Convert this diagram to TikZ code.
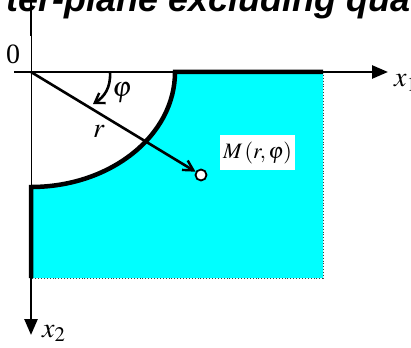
\documentclass[tikz,border=0pt]{standalone}
\usepackage{mathptmx}
\usepackage{fontspec}
\setmainfont{Liberation Serif}
\newfontfamily\titlefont{Liberation Sans}
\usetikzlibrary{arrows.meta}
\definecolor{regioncyan}{RGB}{0,255,255}
\begin{document}
\begin{tikzpicture}[x=1pt,y=-1pt,
  axisline/.style={line width=2.6pt},
  bound/.style={line width=4.5pt},
  dotedge/.style={line width=0.9pt,dotted,black!75},
  axtip/.style={-{Triangle[length=16pt,width=13pt]}},
  lbl/.style={inner sep=0pt},
  ptnode/.style={circle,draw,fill=white,line width=1.8pt,minimum size=11pt,inner sep=0pt}]
\useasboundingbox (0,0) rectangle (411,347);
\clip (0,0) rectangle (411,347);
% region
\fill[regioncyan] (175,72) -- (323,72) -- (323,278) -- (31,278) -- (31,187)
  arc[start angle=90,end angle=0,x radius=144,y radius=115] -- cycle;
\draw[dotedge] (323,72) -- (323,278) -- (31,278);
% title
\node[anchor=base west,lbl,font=\titlefont\bfseries\itshape\fontsize{36}{40}\selectfont] (title) at (6,12) {ter-plane excluding qua};
% coordinates
\coordinate (O) at (31,72);
\coordinate (xs) at (14,72);
\coordinate (xe) at (388,72);
\coordinate (ytop) at (31,0);
\coordinate (ymid) at (31,36);
\coordinate (ye) at (31,335);
\coordinate (arcs) at (175,72);
\coordinate (arce) at (31,187);
\coordinate (corner) at (31,278);
\coordinate (rend) at (323,72);
% axes
\draw[axisline,axtip] (xs) -- (xe);
\draw[line width=2.6pt] (ytop) -- (ymid);
\draw[line width=1pt] (ymid) -- (arce);
\draw[axisline,axtip] (corner) -- (ye);
% boundary
\draw[bound] (rend) -- (arcs)
  arc[start angle=0,end angle=90,x radius=144,y radius=115] -- (corner);
% point and ray
\node[ptnode] (M) at (201,175) {};
\draw[line width=2.6pt,-{Straight Barb[length=10pt,width=11pt,line width=2.4pt]}] (O) -- (M);
% angle arrow
\coordinate (phs) at (110,72);
\coordinate (phe) at (93,104);
\draw[line width=2.6pt,-{Straight Barb[length=9pt,width=12pt,line width=2.4pt]}] (phs) .. controls (111,88) and (104,97) .. (phe);
% labels
\node[lbl,font=\fontsize{28}{30}\selectfont] (zero) at (13,54) {0};
\node[lbl,font=\fontsize{28}{30}\selectfont] (phi) at (122,93) {$\varphi$};
\node[lbl,font=\fontsize{28}{30}\selectfont] (r) at (99,131) {$r$};
\node[fill=white,minimum width=75pt,minimum height=35pt,inner sep=0pt,font=\fontsize{22}{26}\selectfont] (Ml) at (257.5,152.5) {$M\,(r,\varphi)$};
\node[anchor=base west,lbl,font=\fontsize{28}{30}\selectfont] (x1) at (394,87) {$x_1$};
\node[anchor=base west,lbl,font=\fontsize{28}{30}\selectfont] (x2) at (42,337) {$x_2$};
\end{tikzpicture}
\end{document}
